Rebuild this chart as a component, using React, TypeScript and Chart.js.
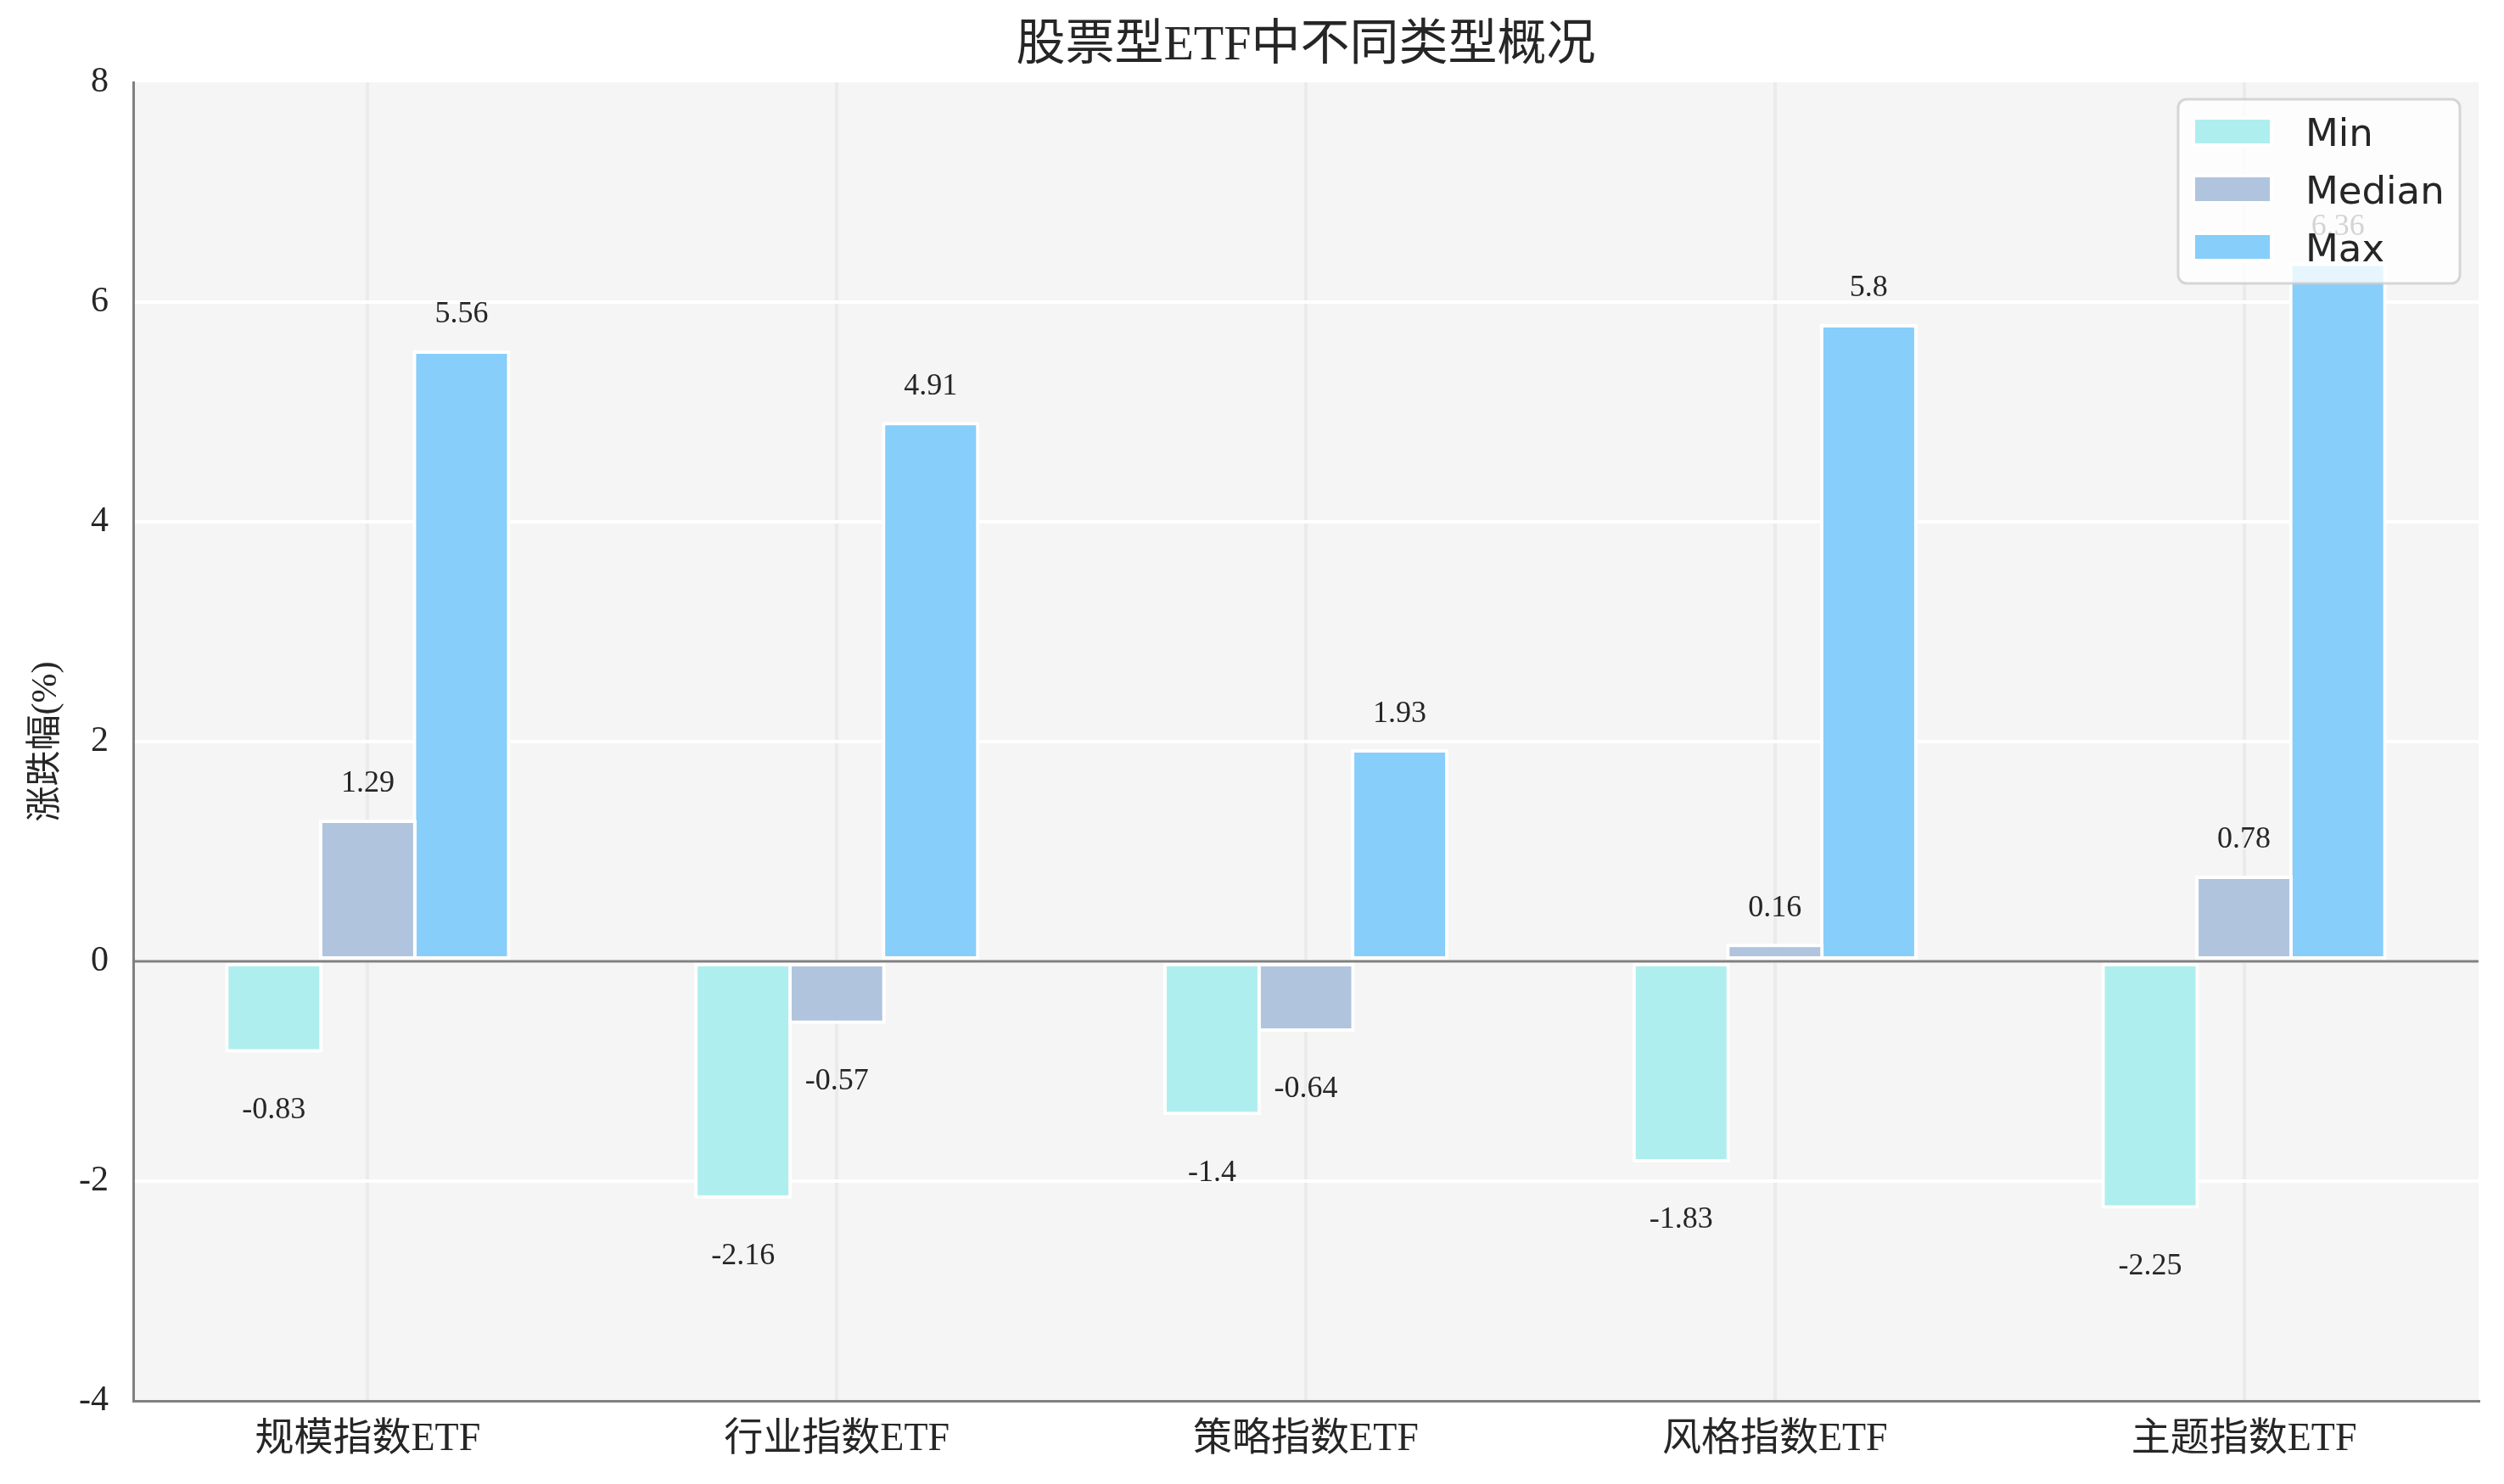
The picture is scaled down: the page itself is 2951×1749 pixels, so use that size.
import React, { useEffect, useRef } from 'react';
import { Chart, registerables } from 'chart.js';

Chart.register(...registerables);

// Chart data
const categories = ['规模指数ETF', '行业指数ETF', '策略指数ETF', '风格指数ETF', '主题指数ETF'];
const minValues = [-0.83, -2.16, -1.4, -1.83, -2.25];
const medianValues = [1.29, -0.57, -0.64, 0.16, 0.78];
const maxValues = [5.56, 4.91, 1.93, 5.8, 6.36];
const seriesNames = ['Min', 'Median', 'Max'];
const seriesColors = ['#afeeee', '#b0c4de', '#87cefa'];
const yTicks = [-4, -2, 0, 2, 4, 6, 8];

const TITLE = '股票型ETF中不同类型概况';
const Y_TITLE = '涨跌幅(%)';
const SERIF = "'Liberation Serif', 'Noto Sans CJK SC', serif";
const TEXT = '#262626';

// Fill the canvas white and the plot area light grey
const backgroundPlugin = {
  id: 'plotBackground',
  beforeDraw(chart: any) {
    const { ctx, chartArea: a } = chart;
    ctx.save();
    ctx.fillStyle = '#ffffff';
    ctx.fillRect(0, 0, chart.width, chart.height);
    ctx.fillStyle = '#f5f5f5';
    ctx.fillRect(a.left, a.top, a.right - a.left, a.bottom - a.top);
    ctx.restore();
  },
};

// Zero line and the value written above / below each bar
const valueLabelPlugin = {
  id: 'valueLabels',
  afterDatasetsDraw(chart: any) {
    const { ctx, chartArea: a, scales } = chart;
    const y0 = scales.y.getPixelForValue(0);
    ctx.save();
    ctx.strokeStyle = '#808080';
    ctx.lineWidth = 3;
    ctx.beginPath();
    ctx.moveTo(a.left, y0);
    ctx.lineTo(a.right, y0);
    ctx.stroke();

    ctx.font = `36px ${SERIF}`;
    ctx.fillStyle = TEXT;
    ctx.textAlign = 'center';
    ctx.textBaseline = 'middle';
    chart.data.datasets.forEach((ds: any, i: number) => {
      chart.getDatasetMeta(i).data.forEach((bar: any, j: number) => {
        const v = ds.data[j] as number;
        const { x, y } = bar.getProps(['x', 'y'], true);
        ctx.fillText(String(v), x, v >= 0 ? y - 42 : y + 68);
      });
    });
    ctx.restore();
  },
};

// Title, y-axis title and the legend drawn inside the plot (top right)
const overlayPlugin = {
  id: 'overlay',
  afterDraw(chart: any) {
    const { ctx, chartArea: a } = chart;
    ctx.save();

    ctx.fillStyle = TEXT;
    ctx.textAlign = 'center';
    ctx.textBaseline = 'middle';
    ctx.font = `58px ${SERIF}`;
    ctx.fillText(TITLE, (a.left + a.right) / 2, 55);

    ctx.save();
    ctx.translate(55, (a.top + a.bottom) / 2);
    ctx.rotate(-Math.PI / 2);
    ctx.font = `42px ${SERIF}`;
    ctx.fillText(Y_TITLE, 0, 0);
    ctx.restore();

    // legend
    const boxW = 332;
    const boxH = 217;
    const left = a.right - 22 - boxW;
    const top = a.top + 20;
    ctx.beginPath();
    ctx.roundRect(left, top, boxW, boxH, 10);
    ctx.fillStyle = 'rgba(255,255,255,0.8)';
    ctx.fill();
    ctx.strokeStyle = 'rgba(204,204,204,0.8)';
    ctx.lineWidth = 3;
    ctx.stroke();

    ctx.font = "45px 'DejaVu Sans', sans-serif";
    ctx.textAlign = 'left';
    ctx.textBaseline = 'alphabetic';
    seriesNames.forEach((name, i) => {
      const cy = top + 38 + i * 68;
      ctx.fillStyle = seriesColors[i];
      ctx.fillRect(left + 20, cy - 14, 88, 28);
      ctx.strokeStyle = '#ffffff';
      ctx.lineWidth = 4;
      ctx.strokeRect(left + 18, cy - 16, 92, 32);
      ctx.fillStyle = TEXT;
      ctx.fillText(name, left + 150, cy + 16.5);
    });

    ctx.restore();
  },
};

const App: React.FC = () => {
  const canvasRef = useRef<HTMLCanvasElement | null>(null);
  const chartInstance = useRef<Chart | null>(null);

  useEffect(() => {
    if (!canvasRef.current) return;
    const ctx = canvasRef.current.getContext('2d');
    if (!ctx) return;

    if (chartInstance.current) {
      chartInstance.current.destroy();
    }

    const seriesData = [minValues, medianValues, maxValues];

    chartInstance.current = new Chart(ctx, {
      type: 'bar',
      data: {
        labels: categories,
        datasets: seriesData.map((d, i) => ({
          label: seriesNames[i],
          data: d,
          backgroundColor: seriesColors[i],
          borderColor: '#ffffff',
          borderWidth: 4,
          borderSkipped: false,
          categoryPercentage: 0.6,
          barPercentage: 1.04,
        })),
      },
      options: {
        responsive: true,
        maintainAspectRatio: false,
        animation: false,
        layout: { padding: { top: 97, right: 30, left: 0, bottom: 0 } },
        plugins: {
          legend: { display: false },
          title: { display: false },
          tooltip: { enabled: false },
        },
        scales: {
          x: {
            offset: true,
            grid: { offset: false, color: '#ebebeb', lineWidth: 4, drawTicks: false },
            border: { color: '#808080', width: 3 },
            ticks: {
              color: TEXT,
              font: { family: SERIF, size: 46 },
              padding: 18,
              maxRotation: 0,
              autoSkip: false,
            },
            afterFit: (s: any) => {
              s.height = 98;
            },
          },
          y: {
            min: -4,
            max: 8,
            afterBuildTicks: (s: any) => {
              s.ticks = yTicks.map((v) => ({ value: v }));
            },
            grid: {
              color: (c: any) =>
                c.tick && (c.tick.value === -4 || c.tick.value === 8) ? 'rgba(0,0,0,0)' : '#ffffff',
              lineWidth: 4,
              drawTicks: false,
            },
            border: { color: '#808080', width: 3 },
            ticks: { color: TEXT, font: { family: SERIF, size: 42 }, padding: 29 },
            afterFit: (s: any) => {
              s.width = 157;
            },
          },
        },
      },
      plugins: [backgroundPlugin, valueLabelPlugin, overlayPlugin],
    });

    return () => {
      if (chartInstance.current) {
        chartInstance.current.destroy();
        chartInstance.current = null;
      }
    };
  }, []);

  return (
    <div style={{ position: 'absolute', left: 0, top: 0, width: 2951, height: 1749, background: '#ffffff' }}>
      <canvas ref={canvasRef} style={{ width: '100%', height: '100%' }} />
    </div>
  );
};

export default App;
